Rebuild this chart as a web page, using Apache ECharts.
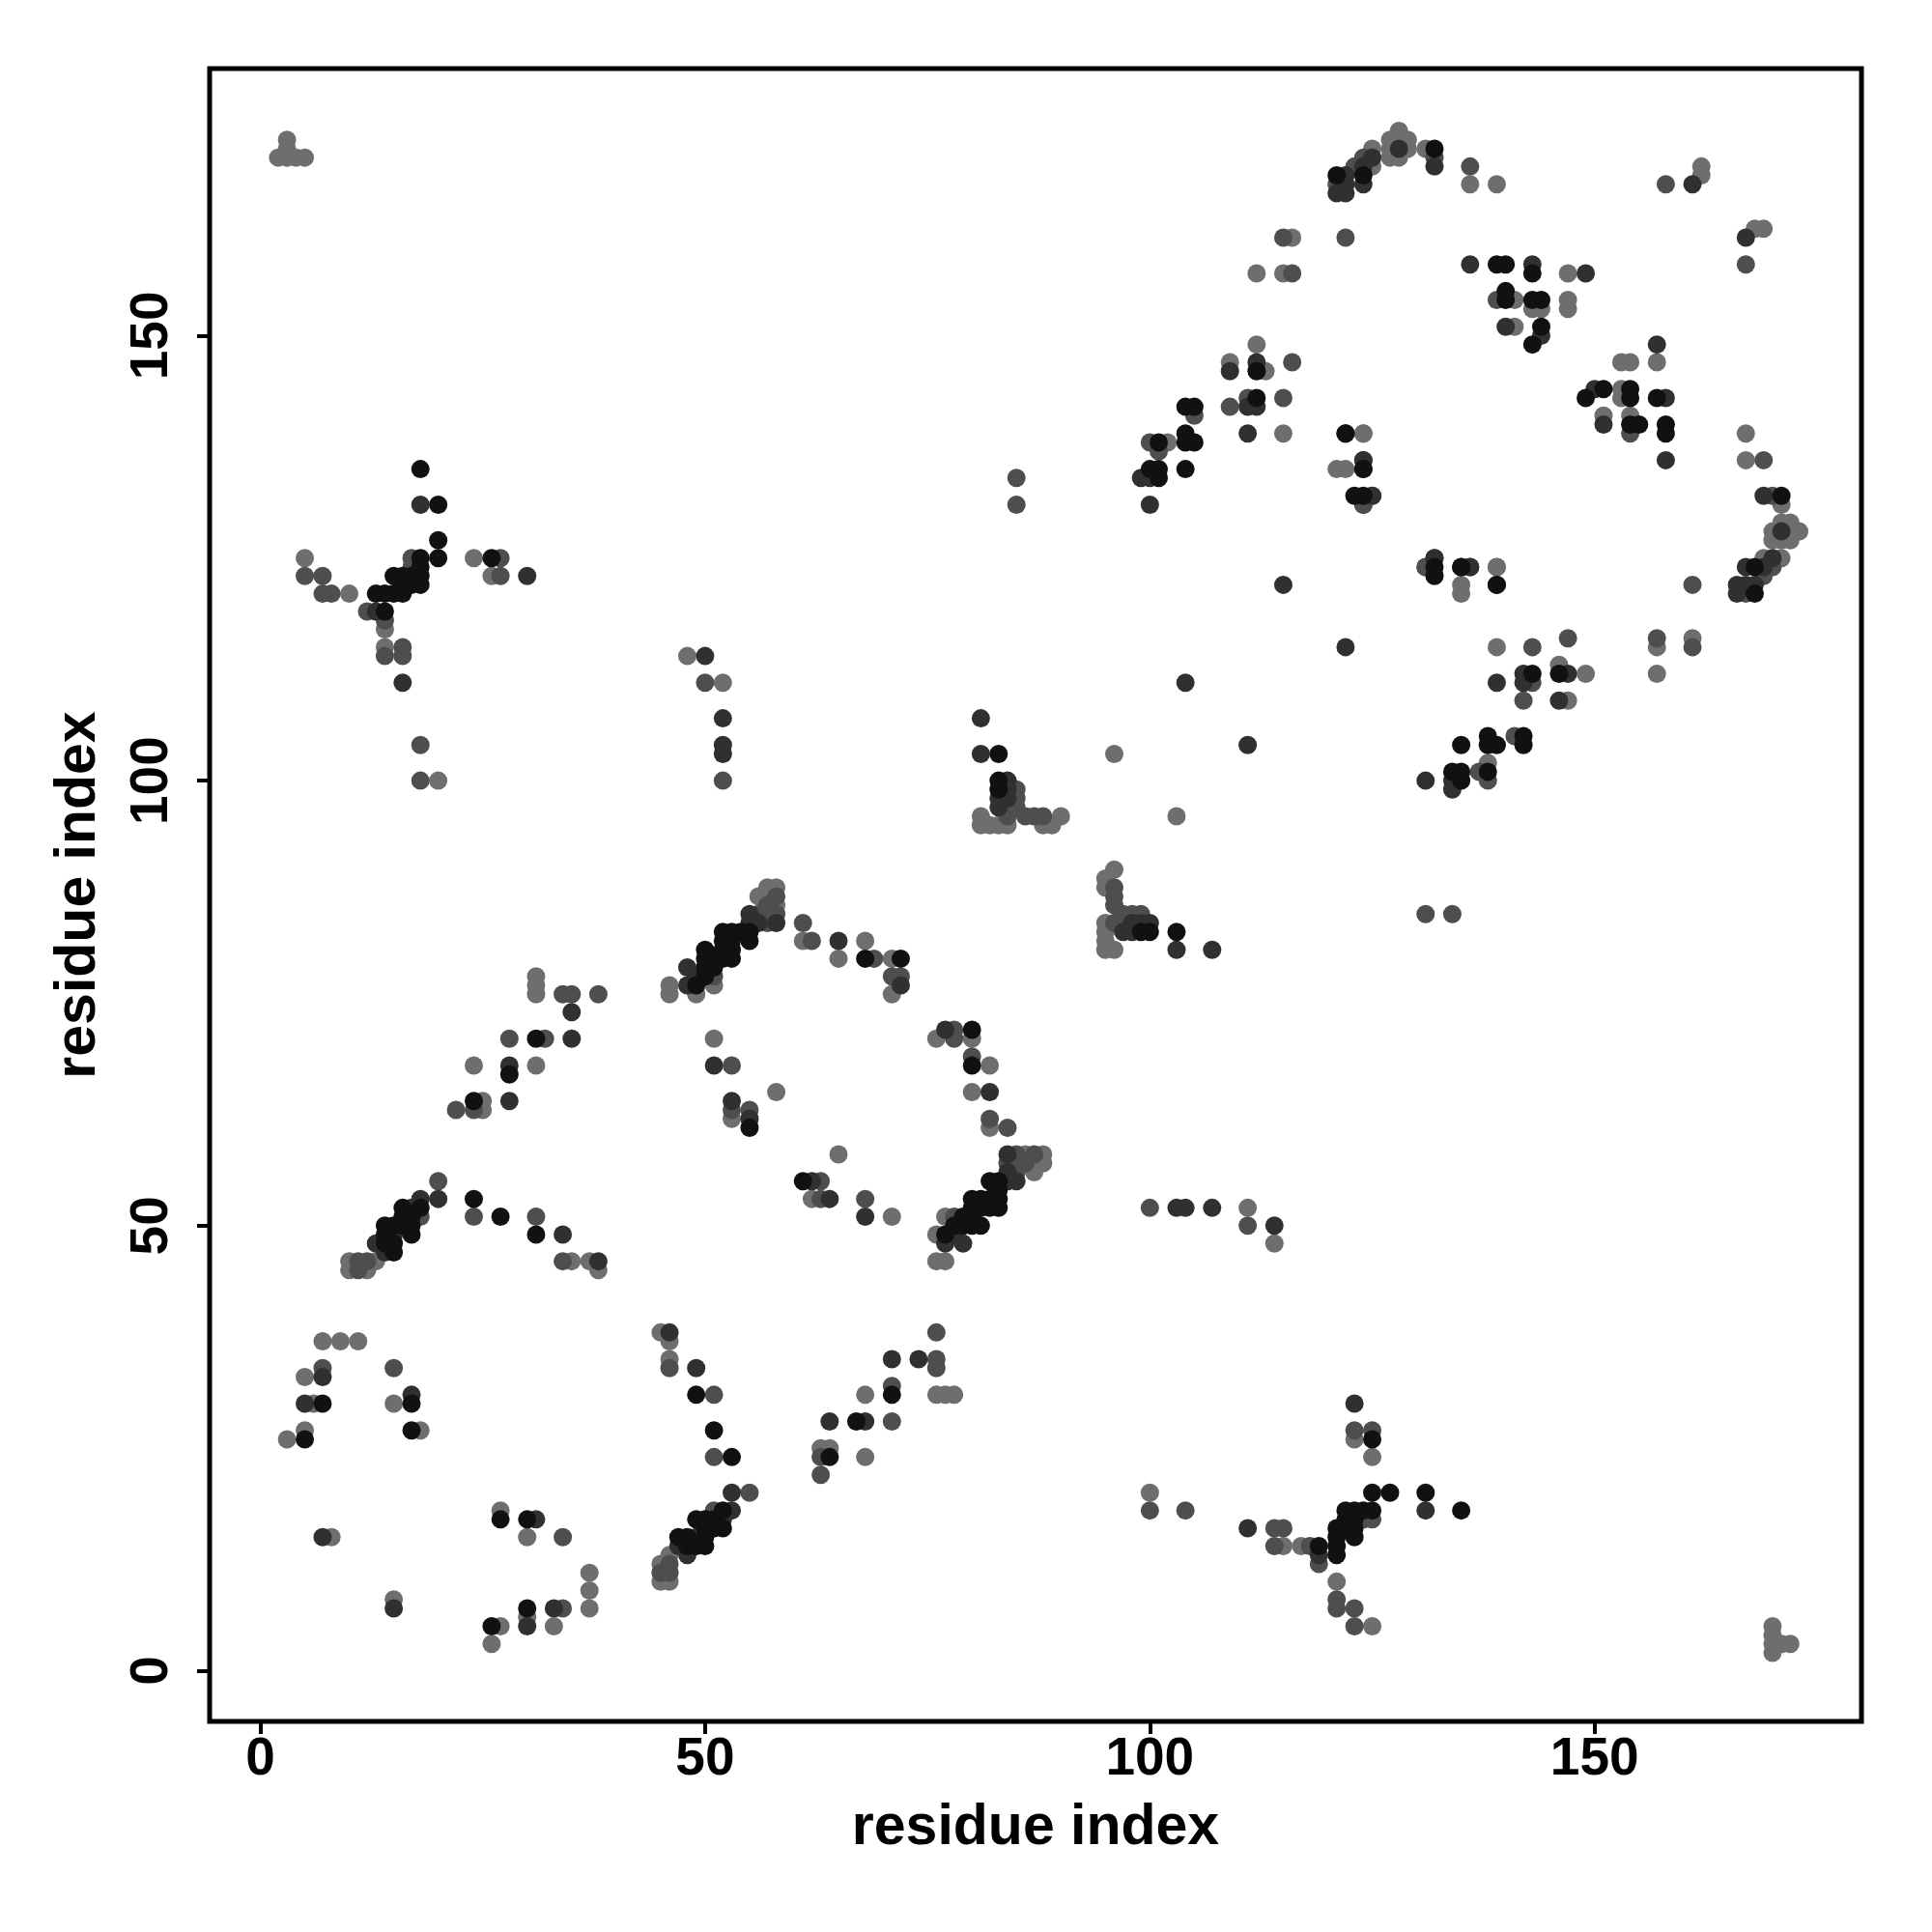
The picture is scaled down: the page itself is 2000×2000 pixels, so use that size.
<!DOCTYPE html>
<html><head><meta charset="utf-8">
<script src="https://cdn.jsdelivr.net/npm/echarts@6/dist/echarts.min.js"></script>
<style>html,body{margin:0;padding:0;background:#fff}#c{width:2000px;height:2000px}</style>
</head><body><div id="c"></div>
<script>
// Contact map: each contact [i, j, level] with i > j; a contact is shown at (i,j) and (j,i).
// level: 0 = strongest (black) ... 3 = weakest (light grey)
const contacts = [
[15,8,3],[15,7,1],[26,5,0],[27,5,3],[26,3,3],[30,7,0],[30,6,3],[30,5,1],[33,7,1],[34,7,2],[33,5,3],
[37,11,3],[37,9,3],[37,7,3],[27,18,3],[27,17,0],[30,17,0],[31,17,1],[30,15,3],[34,15,2],
[45,10,3],[46,10,3],[45,11,2],[46,11,2],[45,12,3],[46,12,2],[46,13,3],[47,14,1],[47,15,0],[48,13,1],
[48,14,0],[48,15,0],[49,14,0],[49,15,1],[50,14,0],[50,15,0],[50,16,0],[51,16,0],[52,16,0],[49,17,0],
[50,17,0],[51,17,0],[52,17,1],[51,18,2],[52,18,0],[53,18,1],[53,20,1],[55,20,2],[51,24,2],[53,24,0],
[51,27,0],[49,31,0],[51,31,2],[49,34,1],[46,34,2],[46,35,3],[46,37,3],[45,38,3],[46,38,1],
[76,38,2],[71,35,1],[74,35,1],[76,35,2],[76,34,2],[68,31,3],[71,32,2],[71,31,0],[76,31,3],[77,31,3],
[78,31,3],[64,28,1],[67,28,0],[68,28,1],[71,28,2],[63,25,3],[64,25,3],[64,24,0],[63,24,2],[63,22,2],[68,24,3],
[61,55,0],[62,55,1],[63,55,2],[62,53,3],[63,53,2],[64,53,1],[68,53,2],[68,51,1],[71,51,3],[65,58,3],
[76,46,3],[77,46,3],[76,49,3],[77,49,0],[77,48,1],[78,49,1],[79,48,1],[78,50,0],[79,50,0],[80,50,0],
[81,50,0],[79,51,0],[77,51,3],[78,51,2],[80,51,0],[80,52,0],[81,52,0],[82,52,0],[83,52,0],[80,53,0],
[81,53,0],[82,53,0],[83,53,0],[83,54,0],[82,55,0],[83,55,0],[84,55,1],[85,55,1],[84,56,1],[85,56,2],
[84,57,2],[84,58,1],[86,57,2],[86,58,3],[87,56,3],[87,58,2],[88,57,3],[88,58,3],[85,58,2],
[77,72,1],[78,72,2],[80,72,0],[76,71,3],[78,71,2],[80,71,3],[80,69,2],[80,68,0],[82,68,3],[80,65,3],
[82,65,1],[82,62,2],[82,61,3],[84,61,2],
[100,52,2],[103,52,1],[104,52,1],[107,52,1],[111,52,3],[111,50,2],[114,50,1],[114,48,3],[100,20,3],
[100,18,2],[104,18,2],[111,16,1],[114,16,2],[115,16,2],[114,14,2],[115,14,3],[117,14,3],[118,14,2],
[119,12,2],[119,13,1],[119,14,0],[121,13,0],[121,14,0],[121,15,0],[121,16,0],[122,16,0],[122,17,0],
[123,15,0],[123,16,0],[123,17,0],[122,18,0],[123,18,0],[124,18,0],[125,18,0],[124,17,2],[125,17,2],
[125,20,0],[127,20,0],[131,20,0],[131,18,1],[135,18,0],[123,30,1],[123,27,2],[123,26,3],[125,27,2],
[125,26,0],[125,24,3],[121,10,3],[121,8,2],[121,7,2],[123,7,2],[123,5,2],[125,5,3],
[170,2,3],[170,3,3],[170,4,3],[170,5,3],[171,3,3],[172,3,3],
[111,104,1],[103,96,3],[103,83,0],[103,81,1],[107,81,1],
[96,90,3],[95,89,3],[95,88,3],[96,88,2],[96,87,2],[96,86,2],[95,84,3],[95,83,3],[95,82,3],[95,81,3],
[96,81,3],[96,84,2],[97,84,2],[97,85,2],[98,85,2],[98,84,1],[98,83,1],[99,83,0],[99,84,1],[99,85,2],
[100,83,0],[100,84,1],[97,83,1],
[122,115,1],[139,115,3],[143,115,2],[147,116,2],[157,116,2],[157,115,3],[161,116,3],[161,115,2],
[157,112,3],[139,111,1],[142,112,1],[142,111,1],[143,112,0],[143,111,2],[142,109,2],[146,113,3],
[146,112,0],[147,112,1],[149,112,3],[146,109,1],[147,109,3],
[135,104,0],[138,105,0],[138,104,0],[139,104,0],[141,105,2],[142,105,0],[142,104,0],[131,100,1],
[134,101,0],[135,101,0],[134,100,1],[135,100,0],[134,99,1],[137,101,2],[138,102,3],[138,101,0],[138,100,2],
[131,85,2],[134,85,2],
[167,161,1],[168,162,3],[169,162,3],[167,158,2],
[157,149,1],[153,147,3],[154,147,3],[157,147,3],
[149,143,0],[150,144,1],[151,144,0],[153,144,3],[153,143,3],[154,144,0],[154,143,0],[157,143,0],
[158,143,1],[151,141,3],[151,140,1],[154,141,3],[154,140,0],[154,139,2],[155,140,0],[158,140,0],
[158,139,0],[158,136,1],
[122,139,0],[124,139,3],[121,135,3],[124,136,1],[124,135,0],[123,132,0],[125,132,2],[124,131,2],
[167,139,3],[167,136,3],[169,136,2],
[169,132,1],[170,132,2],[171,132,0],[171,131,3],
[171,129,3],[172,129,3],[170,128,3],[171,128,1],[172,128,3],[173,128,3],[170,127,3],[171,127,3],[172,127,3],
[169,125,3],[170,125,1],[171,125,3],[167,124,1],[168,124,0],[169,124,1],[170,124,2],[166,122,1],
[167,122,1],[168,122,1],[166,121,1],[167,121,2],[168,121,0],[169,123,2],
[161,122,2],
[131,124,2],[132,125,1],[132,124,0],[135,124,0],[136,124,1],[139,124,3],[135,122,3],[139,122,0]
];
const tickValues = [0, 50, 100, 150];
const axisTitle = 'residue index';

const shade = ['#111111', '#303030', '#4e4e4e', '#6e6e6e'];

// both halves of the symmetric map, lighter points drawn first
const pts = [];
contacts.forEach(c => { pts.push([c[0], c[1], c[2]]); pts.push([c[1], c[0], c[2]]); });
pts.sort((a, b) => b[2] - a[2]);

const font = 'Liberation Sans, Arial, Helvetica, sans-serif';
function axis(isX) {
  return {
    type: 'value', min: -5.7, max: 180,
    name: axisTitle, nameLocation: 'middle',
    nameGap: isX ? 81 : 106,
    nameTextStyle: { fontFamily: font, fontWeight: 'bold', fontSize: 59, color: '#000' },
    splitLine: { show: false },
    axisLine: { show: false, onZero: false },
    axisTick: { show: true, inside: false, length: 13, customValues: tickValues,
      lineStyle: { color: '#000', width: 4 } },
    axisLabel: { show: true, customValues: tickValues, rotate: isX ? 0 : 90,
      margin: isX ? 12 : 32, fontFamily: font, fontWeight: 'bold', fontSize: 55, color: '#000' }
  };
}

const chart = echarts.init(document.getElementById('c'), null, { renderer: 'canvas' });
chart.setOption({
  animation: false,
  backgroundColor: '#fff',
  grid: { left: 217, top: 71, width: 1710, height: 1711, show: true,
    borderColor: '#000', borderWidth: 5, backgroundColor: 'transparent' },
  xAxis: axis(true),
  yAxis: axis(false),
  series: [{
    type: 'scatter', symbol: 'circle', symbolSize: 19,
    data: pts,
    itemStyle: { opacity: 1, color: p => shade[p.data[2]] }
  }]
});
</script></body></html>
